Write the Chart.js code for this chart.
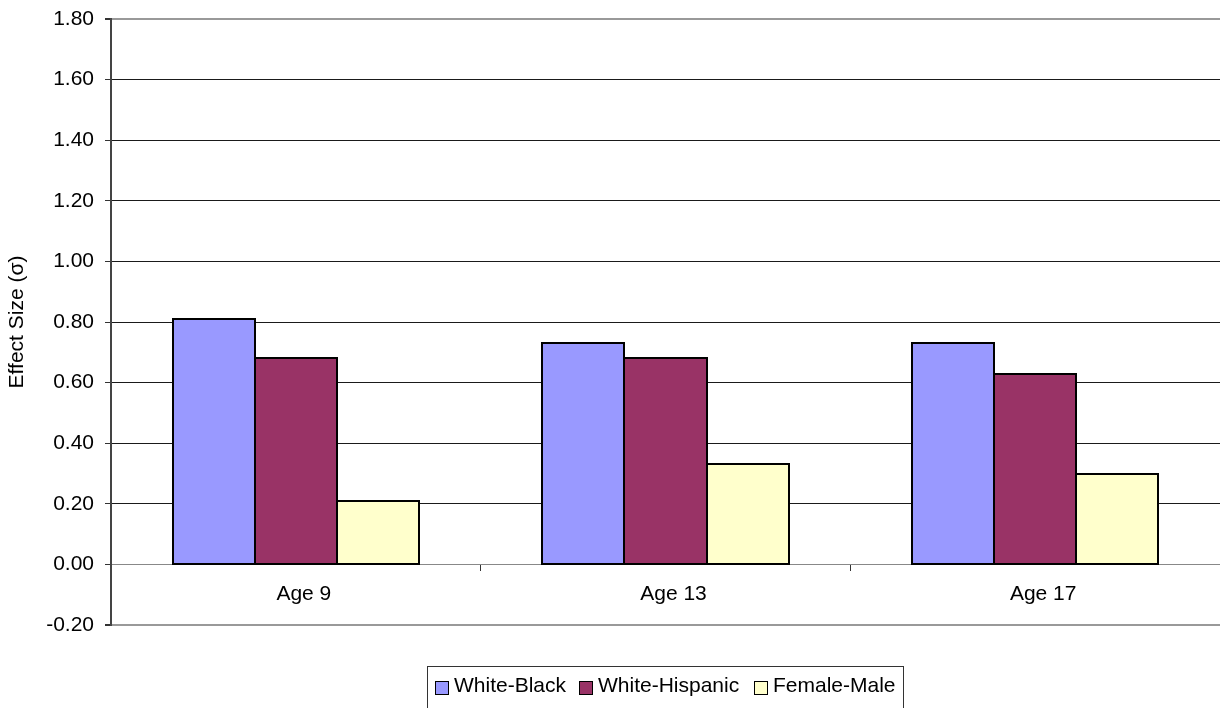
<!DOCTYPE html>
<html>
<head>
<meta charset="utf-8">
<title>Effect Size by Age</title>
<script src="https://cdn.jsdelivr.net/npm/chart.js@4/dist/chart.umd.min.js"></script>
<style>
  html, body { margin: 0; padding: 0; background: #ffffff; }
  #wrap { width: 1220px; height: 708px; }
  canvas { display: block; }
</style>
</head>
<body>
<div id="wrap"><canvas id="chart" width="1220" height="708"></canvas></div>
<script>
// Categories and gap values (effect size in standard deviations)
const categories = ['Age 9', 'Age 13', 'Age 17'];
const whiteBlack = [0.81, 0.73, 0.73];
const whiteHispanic = [0.68, 0.68, 0.63];
const femaleMale = [0.21, 0.33, 0.30];
const seriesNames = ['White-Black', 'White-Hispanic', 'Female-Male'];
const seriesColors = ['#9999FF', '#993366', '#FFFFCC'];
const yMin = -0.2, yMax = 1.8, yStep = 0.2;

const FONT = { family: '"Liberation Sans", Arial, sans-serif', size: 21 };
const near = (a, b) => Math.abs(a - b) < 1e-6;

// Crisp 2px black outlines around every bar, taken from the bar elements' own geometry
const barOutlines = {
  id: 'barOutlines',
  afterDatasetsDraw(chart) {
    const ctx = chart.ctx;
    ctx.save();
    ctx.strokeStyle = '#000000';
    ctx.lineWidth = 2;
    chart.data.datasets.forEach((ds, i) => {
      chart.getDatasetMeta(i).data.forEach(el => {
        const { x, y, base, width } = el.getProps(['x', 'y', 'base', 'width'], true);
        const l = Math.round(x - width / 2);
        const r = Math.round(x + width / 2);
        const t = Math.round(Math.min(y, base));
        const b = Math.round(Math.max(y, base));
        ctx.strokeRect(l, t, r - l, b - t);
      });
    });
    ctx.restore();
  }
};

// Boxed legend under the plot, built from the datasets
const boxedLegend = {
  id: 'boxedLegend',
  afterDraw(chart) {
    const ctx = chart.ctx;
    const itemX = [435, 579, 754];
    ctx.save();
    ctx.font = FONT.size + 'px ' + FONT.family;
    ctx.textBaseline = 'alphabetic';
    ctx.textAlign = 'left';
    let right = 0;
    chart.data.datasets.forEach((ds, i) => {
      const x = itemX[i];
      ctx.fillStyle = ds.backgroundColor;
      ctx.fillRect(x, 681, 14, 14);
      ctx.strokeStyle = '#000000';
      ctx.lineWidth = 1;
      ctx.strokeRect(x + 0.5, 681.5, 13, 13);
      ctx.fillStyle = '#000000';
      ctx.fillText(ds.label, x + 19, 692);
      right = x + 19 + ctx.measureText(ds.label).width;
    });
    ctx.strokeStyle = '#333333';
    ctx.lineWidth = 1;
    ctx.strokeRect(427.5, 666.5, Math.round(right + 7) - 427, 60);
    ctx.restore();
  }
};

const datasets = [whiteBlack, whiteHispanic, femaleMale].map((vals, i) => ({
  label: seriesNames[i],
  data: vals,
  backgroundColor: seriesColors[i],
  borderWidth: 0,
  inflateAmount: 0,
  categoryPercentage: 0.667,
  barPercentage: 1.0
}));

new Chart(document.getElementById('chart'), {
  type: 'bar',
  data: { labels: categories, datasets },
  options: {
    responsive: false,
    animation: false,
    devicePixelRatio: 1,
    layout: { padding: { left: 0, top: 19, right: 0, bottom: 83 } },
    plugins: {
      legend: { display: false },
      tooltip: { enabled: false }
    },
    scales: {
      x: {
        position: { y: 0 },
        offset: true,
        afterFit(scale) { scale.paddingLeft = 0; scale.paddingRight = 0; },
        grid: {
          offset: true,
          drawOnChartArea: false,
          drawTicks: true,
          tickLength: 6,
          tickColor: '#333333'
        },
        border: { color: '#888888', width: 1 },
        ticks: { font: FONT, color: '#000000', padding: 11, labelOffset: 8 }
      },
      y: {
        min: yMin,
        max: yMax,
        afterFit(scale) {
          scale.width = 111;
          scale.paddingTop = 0;
          scale.paddingBottom = 0;
        },
        ticks: {
          stepSize: yStep,
          font: FONT,
          color: '#000000',
          padding: 11,
          callback: v => Number(v).toFixed(2)
        },
        grid: {
          color: c => (c.tick && (near(c.tick.value, yMin) || near(c.tick.value, yMax) || near(c.tick.value, 0))) ? '#999999' : '#1a1a1a',
          lineWidth: c => (c.tick && (near(c.tick.value, yMin) || near(c.tick.value, yMax))) ? 2 : 1,
          drawTicks: true,
          tickLength: 6,
          tickColor: '#333333'
        },
        border: { color: '#444444', width: 2 },
        title: {
          display: true,
          text: 'Effect Size (σ)',
          font: FONT,
          color: '#000000',
          padding: { top: 5, bottom: 0 }
        }
      }
    }
  },
  plugins: [barOutlines, boxedLegend]
});
</script>
</body>
</html>
